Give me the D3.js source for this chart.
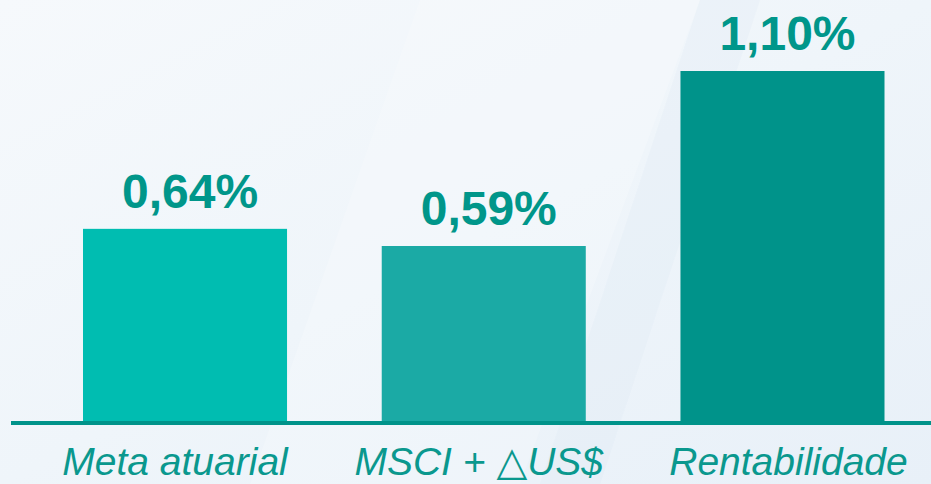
<!DOCTYPE html>
<html>
<head>
<meta charset="utf-8">
<script src="https://cdn.jsdelivr.net/npm/d3@7/dist/d3.min.js"></script>
<style>
html,body{margin:0;padding:0;background:#eef4fa;}
svg{display:block;}
</style>
</head>
<body>
<script>
const categories = ["Meta atuarial", "MSCI + \u25B3US$", "Rentabilidade"];
const values = [0.64, 0.59, 1.10];
const valueLabels = ["0,64%", "0,59%", "1,10%"];
const barColors = ["#00bdb1", "#1baaa5", "#00938a"];

const W = 931, H = 484;
const svg = d3.select("body").append("svg").attr("width", W).attr("height", H);
const defs = svg.append("defs");

const bg = defs.append("linearGradient").attr("id","bg").attr("x1","0").attr("y1","0").attr("x2","1").attr("y2","1");
bg.append("stop").attr("offset","0").attr("stop-color","#f6f9fc");
bg.append("stop").attr("offset","0.5").attr("stop-color","#eff5fa");
bg.append("stop").attr("offset","1").attr("stop-color","#e8f0f8");
svg.append("rect").attr("width",W).attr("height",H).attr("fill","url(#bg)");
svg.append("path").attr("d","M420,0 L700,0 L520,484 L250,484 Z").attr("fill","#ffffff").attr("opacity",0.2);
svg.append("path").attr("d","M700,0 L760,0 L600,484 L540,484 Z").attr("fill","#dbe8f3").attr("opacity",0.25);

const baseY = 421;
const x = d3.scaleBand().domain(categories).range([83, 884.5]).paddingInner(0.317).paddingOuter(0);
const y = d3.scaleLinear().domain([0.08, 1.10]).range([baseY, 71]);

svg.selectAll("rect.bar").data(values).join("rect")
  .attr("class","bar")
  .attr("x",(d,i)=>x(categories[i]))
  .attr("width",x.bandwidth())
  .attr("y",d=>y(d))
  .attr("height",d=>baseY - y(d))
  .attr("fill",(d,i)=>barColors[i]);

svg.selectAll("text.val").data(values).join("text")
  .attr("class","val")
  .attr("x",(d,i)=>x(categories[i]) + x.bandwidth()/2 + 5)
  .attr("y",d=>y(d) - 21)
  .attr("text-anchor","middle")
  .attr("font-family","'Liberation Sans', Arial, sans-serif")
  .attr("font-weight","bold")
  .attr("font-size",48)
  .attr("fill","#00968a")
  .text((d,i)=>valueLabels[i]);

svg.append("line").attr("x1",11).attr("x2",W).attr("y1",baseY+2).attr("y2",baseY+2)
  .attr("stroke","#00938a").attr("stroke-width",4);

const xa = svg.append("g").attr("transform",`translate(0,${baseY+2})`)
  .call(d3.axisBottom(x).tickSize(0).tickPadding(0));
xa.select(".domain").remove();
xa.selectAll("text")
  .attr("dy",0).attr("y",52)
  .attr("dx",(d,i)=>[-10,-5,6][i])
  .attr("font-family","'Liberation Sans', Arial, sans-serif")
  .attr("font-style","italic")
  .attr("font-size",39)
  .attr("fill","#0a988e")
  .each(function(d){
    const parts = d.split("\u25B3");
    if (parts.length === 2) {
      const t = d3.select(this).text(null);
      t.append("tspan").text(parts[0]);
      t.append("tspan").attr("font-family","'DejaVu Sans', sans-serif").attr("font-style","normal")
        .attr("font-size",40).text("\u25B3");
      t.append("tspan").text(parts[1]);
    }
  });
</script>
</body>
</html>
